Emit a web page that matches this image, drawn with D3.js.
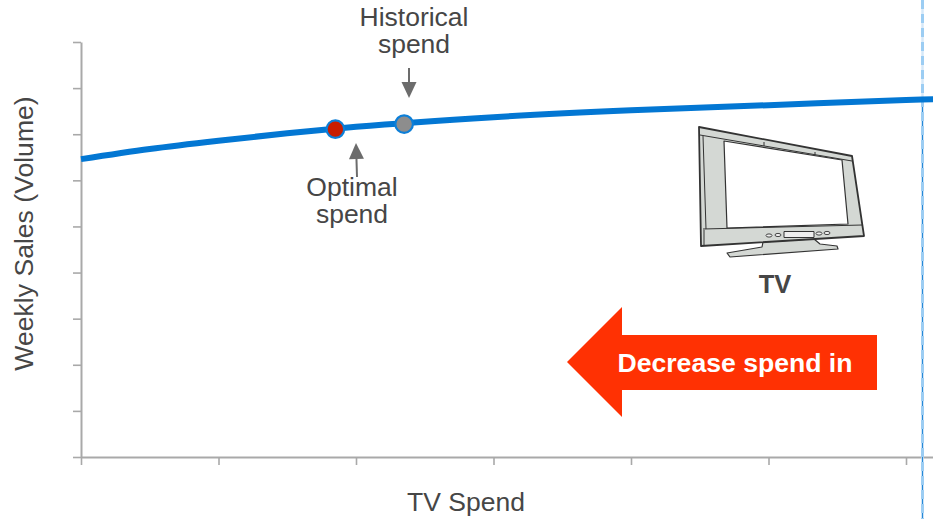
<!DOCTYPE html>
<html>
<head>
<meta charset="utf-8">
<script src="https://cdn.jsdelivr.net/npm/d3@7"></script>
<style>
  html, body { margin: 0; padding: 0; background: #fff; overflow: hidden; }
  svg { display: block; font-family: "Liberation Sans", Arial, sans-serif; }
</style>
</head>
<body>
<svg id="chart" width="933" height="519"></svg>
<script>
// Response curve: weekly sales against TV spend
const curveSpend = [0, 0.5, 1, 1.5, 2, 3, 4, 5, 6, 6.2];
const curveSales = [6.46, 6.68, 6.86, 7.02, 7.16, 7.37, 7.52, 7.63, 7.74, 7.76];
const spendTicks = [0, 1, 2, 3, 4, 5, 6];
const salesTicks = [0, 1, 2, 3, 4, 5, 6, 7, 8, 9];
const markerNames = ["Optimal", "Historical"];
const markerSpend = [1.85, 2.35];
const markerSales = [7.11, 7.22];
const markerFills = ["#c91d00", "#8d8d8d"];
const limitSpend = 6.12;

const svg = d3.select("#chart");
const x = d3.scaleLinear().domain([0, 6.2]).range([81, 933.5]);
const y = d3.scaleLinear().domain([0, 9]).range([457, 42]);

const axisColor = "#a9a9a9";
const textColor = "#464646";

// Axes carry tick marks only, no numbers
const xAxis = svg.append("g").attr("transform", `translate(0,${y(0)})`)
  .call(d3.axisBottom(x).tickValues(spendTicks).tickSize(8).tickSizeOuter(0).tickFormat(""));
const yAxis = svg.append("g").attr("transform", `translate(${x(0)},0)`)
  .call(d3.axisLeft(y).tickValues(salesTicks).tickSize(8).tickSizeOuter(0).tickFormat(""));
[xAxis, yAxis].forEach(a => {
  a.selectAll("path").attr("stroke", axisColor).attr("stroke-width", 2);
  a.selectAll("line").attr("stroke", axisColor).attr("stroke-width", 1.6);
});

// Spend limit: thin line under a pale dashed one
const limitX = x(limitSpend);
svg.append("line")
  .attr("x1", limitX).attr("x2", limitX).attr("y1", 0).attr("y2", 519)
  .attr("stroke", "#d6e8f8").attr("stroke-width", 2.5);
svg.append("line")
  .attr("x1", limitX).attr("x2", limitX).attr("y1", 100).attr("y2", 519)
  .attr("stroke", "#2488d8").attr("stroke-width", 1.2);
svg.append("line")
  .attr("x1", limitX).attr("x2", limitX).attr("y1", 0).attr("y2", 519)
  .attr("stroke", "#9ccdf3").attr("stroke-width", 3).attr("stroke-dasharray", "9 5");

// Response curve
const line = d3.line().x((d, i) => x(curveSpend[i])).y(d => y(d)).curve(d3.curveMonotoneX);
svg.append("path").datum(curveSales)
  .attr("d", line).attr("fill", "none").attr("stroke", "#0377d3").attr("stroke-width", 6);

// Spend markers on the curve
svg.selectAll("circle.marker").data(markerNames).join("circle")
  .attr("class", "marker")
  .attr("cx", (d, i) => x(markerSpend[i]))
  .attr("cy", (d, i) => y(markerSales[i]))
  .attr("r", 8.8)
  .attr("fill", (d, i) => markerFills[i])
  .attr("stroke", "#0d7fd8").attr("stroke-width", 2.2);

// Helper for stacked text blocks
function label(lines, cx, firstBaseline, size, weight, fill) {
  lines.forEach((s, i) => svg.append("text")
    .attr("text-anchor", "middle").attr("font-size", size)
    .attr("font-weight", weight || "normal").attr("fill", fill || textColor)
    .attr("x", cx).attr("y", firstBaseline + i * 26.5).text(s));
}

label(["Historical", "spend"], 414, 26, 26.5);
label(["Optimal", "spend"], 352, 196, 26.5);
label(["TV Spend"], 466, 511, 26.5);
label(["TV"], 775, 293, 25.5, "bold");

svg.append("text")
  .attr("transform", "translate(33,233.5) rotate(-90)")
  .attr("text-anchor", "middle").attr("font-size", 26.6).attr("fill", textColor)
  .text("Weekly Sales (Volume)");

// Leader arrows pointing at the markers
function leader(tail, tip, half) {
  const dx = tip[0] - tail[0], dy = tip[1] - tail[1], len = Math.hypot(dx, dy);
  const ux = dx / len, uy = dy / len, h = 16;
  const bx = tip[0] - ux * h, by = tip[1] - uy * h;
  svg.append("line").attr("x1", tail[0]).attr("y1", tail[1]).attr("x2", bx).attr("y2", by)
    .attr("stroke", "#6c6c6c").attr("stroke-width", 2);
  svg.append("path")
    .attr("d", d3.line()([tip, [bx - uy * half, by + ux * half], [bx + uy * half, by - ux * half]]) + "Z")
    .attr("fill", "#6c6c6c");
}
leader([409, 68], [409, 98], 7.5);
leader([357, 177], [356, 143], 7.5);

// Direction arrow
svg.append("path")
  .attr("d", "M567,362 L622,307 L622,335 L877,335 L877,390 L622,390 L622,417 Z")
  .attr("fill", "#ff3103");
label(["Decrease spend in"], 735, 372, 26.6, "bold", "#ffffff");

// Television icon
const tv = svg.append("g").attr("stroke", "#333").attr("stroke-linejoin", "round");
const grey = "#d4d8d4";
tv.append("path").attr("d", "M763,242 L762,247 L727,253 L730,257 L838,249 L837,246 L820,244 L814,239 Z")
  .attr("fill", grey).attr("stroke-width", 1.2);
tv.append("path").attr("d", "M699,127 L852,156 L864,236 L701,246 Z")
  .attr("fill", grey).attr("stroke-width", 1.8);
tv.append("path").attr("d", "M724,141 L842,160 L848,224 L727,228 Z")
  .attr("fill", "#fff").attr("stroke-width", 1.2);
tv.append("path").attr("d", "M700,135 L852,161 M703,229 L862,225 M704,230 L704,246 M703,136 L706,229 M764,142 L764,146 M815,152 L815,155")
  .attr("fill", "none").attr("stroke-width", 1);
tv.append("rect").attr("x", 784).attr("y", 231.5).attr("width", 30).attr("height", 6)
  .attr("fill", "#eee").attr("stroke-width", 1);
[[769, 235.5], [778, 235], [819, 233.5], [827, 233]].forEach(c => {
  tv.append("ellipse").attr("cx", c[0]).attr("cy", c[1]).attr("rx", 3).attr("ry", 1.6)
    .attr("fill", "#eee").attr("stroke-width", 0.9);
});
</script>
</body>
</html>
